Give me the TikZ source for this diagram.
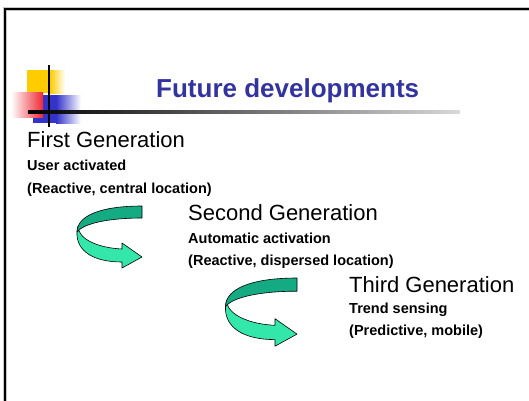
\documentclass[tikz,border=0pt]{standalone}
\usepackage{fontspec}
\setmainfont{Liberation Sans}
\definecolor{titleblue}{RGB}{51,51,160}
\definecolor{ribdark}{RGB}{20,170,130}
\definecolor{riblight}{RGB}{51,230,170}
\definecolor{logoyellow}{RGB}{255,204,0}
\definecolor{logored}{RGB}{238,40,50}
\definecolor{logoblue}{RGB}{51,51,204}
\tikzset{
  gen/.style={anchor=base west, inner sep=0pt, font=\fontsize{22}{26}\selectfont},
  sub/.style={anchor=base west, inner sep=0pt, font=\bfseries\fontsize{14.5}{17}\selectfont},
  ribbon/.style={draw=black, line width=0.6pt, line join=round},
  turnarrow/.pic={
    \filldraw[ribbon, fill=riblight] (-64,20) .. controls (-64,34) and (-42,42) .. (-20,43)
       -- (-20,37) -- (0,51) -- (-20,62) -- (-20,56)
       .. controls (-47,56) and (-66,46) .. (-65,26) -- cycle;
    \filldraw[ribbon, fill=ribdark] (0,0) .. controls (-42,0) and (-65,10) .. (-65,26)
       .. controls (-58,17) and (-32,12) .. (0,12) -- cycle;
  }
}
\begin{document}
\begin{tikzpicture}[x=1pt,y=-1pt]
\useasboundingbox (0,0) rectangle (529,400);
\fill[white] (0,0) rectangle (529,400);
% frame
\draw[line width=3.5pt, gray!45] (5,405) -- (5,9) -- (535,9);
\draw[line width=2pt, black] (5,405) -- (5,9) -- (535,9);
% logo
\fill[logoyellow] (27,70) rectangle (50.5,93);
\shade[left color=logoyellow, right color=white] (50,70) rectangle (65,93);
\fill[logoblue] (33,95) rectangle (56.5,123);
\shade[left color=logoblue, right color=white] (56,95) rectangle (81,123);
\shade[left color=white, right color=logored] (11,92) rectangle (43,117);
\shade[left color=black, right color=white!85!black] (28,110.8) rectangle (460,113.4);
\draw[line width=2.5pt, black] (49,65) -- (49,127);
% title
\node[anchor=base west, inner sep=0pt, text=titleblue, font=\bfseries\fontsize{26}{30}\selectfont] (title) at (156,97) {Future developments};
% generations
\node[gen] (g1) at (27,147) {First Generation};
\node[sub] (g1a) at (27,170) {User activated};
\node[sub] (g1b) at (27,193) {(Reactive, central location)};
\node[gen] (g2) at (188,220) {Second Generation};
\node[sub] (g2a) at (188,243) {Automatic activation};
\node[sub] (g2b) at (188,265) {(Reactive, dispersed location)};
\node[gen] (g3) at (349,292) {Third Generation};
\node[sub] (g3a) at (349,313) {Trend sensing};
\node[sub] (g3b) at (349,335) {(Predictive, mobile)};
% arrows
\pic at (142,206) {turnarrow};
\pic[scale=1.1] at (297,278) {turnarrow};
\end{tikzpicture}
\end{document}
